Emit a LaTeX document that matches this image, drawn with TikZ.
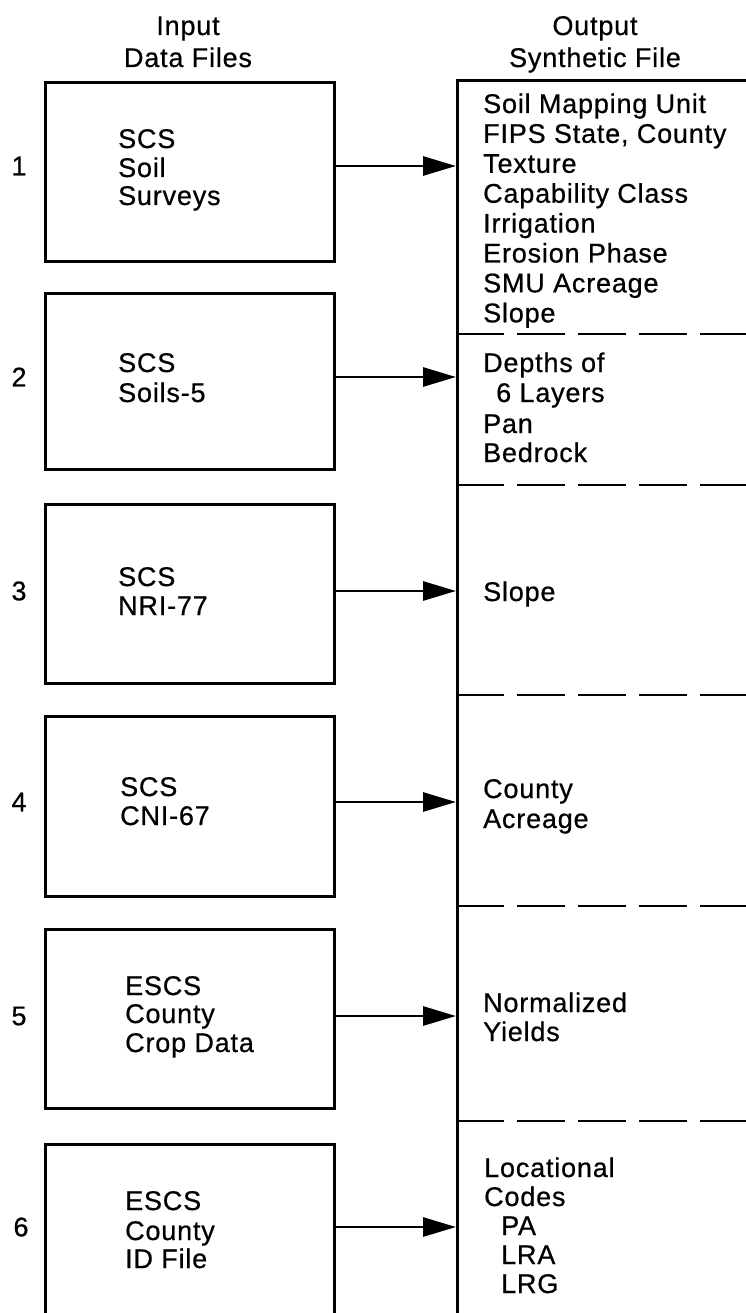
\documentclass[tikz,border=0pt]{standalone}
\usepackage{fontspec}
\setmainfont{Liberation Sans}[LetterSpace=3,FakeBold=0.6]
\usetikzlibrary{arrows.meta}
\begin{document}
\begin{tikzpicture}[x=1pt,y=-1pt,
  inbox/.style={draw, line width=2.8pt, minimum width=289pt, inner sep=0pt, anchor=north west},
  outbox/.style={draw, line width=2.8pt, minimum width=420pt, minimum height=1300pt, inner sep=0pt, anchor=north west},
  txt/.style={font=\fontsize{27}{30}\selectfont, inner sep=0pt, anchor=base west},
  head/.style={font=\fontsize{27}{30}\selectfont, inner sep=0pt, anchor=base},
  num/.style={font=\fontsize{27}{30}\selectfont, inner sep=0pt, anchor=center},
  arr/.style={line width=2.9pt, -{Triangle[length=33pt,width=19pt]}},
  sep/.style={line width=2.3pt, dash pattern=on 48pt off 13pt}]
\useasboundingbox (0,0) rectangle (746,1313);
\clip (0,0) rectangle (746,1313);
\fill[white] (0,0) rectangle (746,1313);

% headers
\node[head] (h1) at (188,35) {Input};
\node[head] (h2) at (188,67) {Data Files};
\node[head] (h3) at (595,35) {Output};
\node[head] (h4) at (595,67) {Synthetic File};

% input boxes
\node[inbox, minimum height=179pt] (b1) at (44,81) {};
\node[inbox, minimum height=176pt] (b2) at (44,292) {};
\node[inbox, minimum height=179pt] (b3) at (44,503) {};
\node[inbox, minimum height=180pt] (b4) at (44,715) {};
\node[inbox, minimum height=179pt] (b5) at (44,928) {};
\node[inbox, minimum height=180pt] (b6) at (44,1143) {};

% output box
\node[outbox] (out) at (456,79) {};

% separators
\coordinate (d1) at (456,334);
\coordinate (d2) at (456,485);
\coordinate (d3) at (456,695);
\coordinate (d4) at (456,906);
\coordinate (d5) at (456,1121);
\foreach \d in {d1,d2,d3,d4,d5} \draw[sep] (\d) -- (\d -| 746,0);

% row numbers
\node[num] (n1) at (19,166) {1};
\node[num] (n2) at (19,377) {2};
\node[num] (n3) at (19,591) {3};
\node[num] (n4) at (19,802) {4};
\node[num] (n5) at (19,1016) {5};
\node[num] (n6) at (21,1227) {6};

% arrows
\foreach \i in {1,...,6}
  \draw[arr] (b\i.east |- n\i) -- (out.west |- n\i);

% input box texts
\node[txt] (t1a) at (118,148) {SCS};
\node[txt] (t1b) at (118,177) {Soil};
\node[txt] (t1c) at (118,205) {Surveys};
\node[txt] (t2a) at (118,372) {SCS};
\node[txt] (t2b) at (118,402) {Soils-5};
\node[txt] (t3a) at (118,586) {SCS};
\node[txt] (t3b) at (118,615) {NRI-77};
\node[txt] (t4a) at (120,796) {SCS};
\node[txt] (t4b) at (120,825) {CNI-67};
\node[txt] (t5a) at (125,995) {ESCS};
\node[txt] (t5b) at (125,1023) {County};
\node[txt] (t5c) at (125,1052) {Crop Data};
\node[txt] (t6a) at (125,1210) {ESCS};
\node[txt] (t6b) at (125,1240) {County};
\node[txt] (t6c) at (125,1268) {ID File};

% output texts
\foreach \t [count=\i] in {Soil Mapping Unit,{FIPS State, County},Texture,Capability Class,Irrigation,Erosion Phase,SMU Acreage,Slope}
  \node[txt] (o1l\i) at (483,{113+29.9*(\i-1)}) {\t};
\node[txt] (o2a) at (483,372) {Depths of};
\node[txt] (o2b) at (496,402) {6 Layers};
\node[txt] (o2c) at (483,433) {Pan};
\node[txt] (o2d) at (483,462) {Bedrock};
\node[txt] (o3a) at (483,601) {Slope};
\node[txt] (o4a) at (483,798) {County};
\node[txt] (o4b) at (483,828) {Acreage};
\node[txt] (o5a) at (483,1012) {Normalized};
\node[txt] (o5b) at (483,1041) {Yields};
\node[txt] (o6a) at (484,1177) {Locational};
\node[txt] (o6b) at (484,1206) {Codes};
\node[txt] (o6c) at (501,1235) {PA};
\node[txt] (o6d) at (501,1264) {LRA};
\node[txt] (o6e) at (501,1293) {LRG};
\end{tikzpicture}
\end{document}
